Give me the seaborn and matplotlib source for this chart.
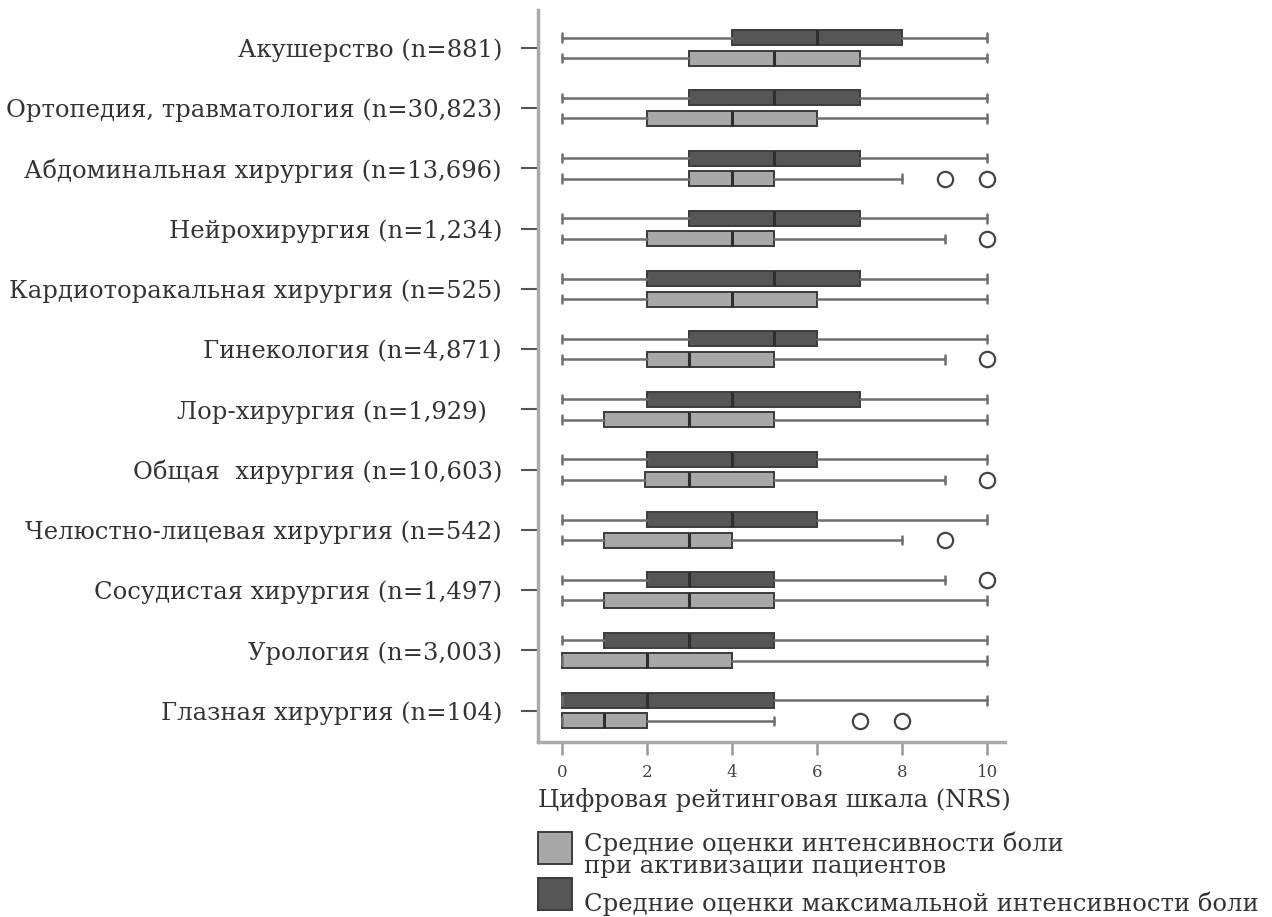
import matplotlib
matplotlib.use("Agg")
import matplotlib.pyplot as plt
import seaborn as sns
from matplotlib.patches import Rectangle

# Surgical specialties (top to bottom)
categories = [
    "Акушерство (n=881)",
    "Ортопедия, травматология (n=30,823)",
    "Абдоминальная хирургия (n=13,696)",
    "Нейрохирургия (n=1,234)",
    "Кардиоторакальная хирургия (n=525)",
    "Гинекология (n=4,871)",
    "Лор-хирургия (n=1,929)  ",
    "Общая  хирургия (n=10,603)",
    "Челюстно-лицевая хирургия (n=542)",
    "Сосудистая хирургия (n=1,497)",
    "Урология (n=3,003)",
    "Глазная хирургия (n=104)",
]

# Maximum pain intensity (NRS): whiskers, quartiles, median, outliers
max_low = [0, 0, 0, 0, 0, 0, 0, 0, 0, 0, 0, 0]
max_q1 = [4, 3, 3, 3, 2, 3, 2, 2, 2, 2, 1, 0]
max_med = [6, 5, 5, 5, 5, 5, 4, 4, 4, 3, 3, 2]
max_q3 = [8, 7, 7, 7, 7, 6, 7, 6, 6, 5, 5, 5]
max_high = [10, 10, 10, 10, 10, 10, 10, 10, 10, 9, 10, 10]
max_out = [[], [], [], [], [], [], [], [], [], [10], [], []]

# Pain intensity on mobilisation (NRS)
act_low = [0, 0, 0, 0, 0, 0, 0, 0, 0, 0, 0, 0]
act_q1 = [3, 2, 3, 2, 2, 2, 1, 1.95, 1, 1, 0, 0]
act_med = [5, 4, 4, 4, 4, 3, 3, 3, 3, 3, 2, 1]
act_q3 = [7, 6, 5, 5, 6, 5, 5, 5, 4, 5, 4, 2]
act_high = [10, 10, 8, 9, 10, 9, 10, 9, 8, 10, 10, 5]
act_out = [[], [], [9, 10], [10], [], [10], [], [10], [9], [], [], [7, 8]]

xticks = [0, 2, 4, 6, 8, 10]
xlabel = "Цифровая рейтинговая шкала (NRS)"
legend_labels = [
    "Средние оценки интенсивности боли\nпри активизации пациентов",
    "Средние оценки максимальной интенсивности боли",
]

W, H = 1272, 917
dark = "#565656"
light = "#a8a8a8"
edge = "#3c3c3c"
whisk = "#6e6e6e"
text_col = "#333333"
fs = 17.5

sns.set_theme(style="white")
plt.rcParams["font.family"] = ["DejaVu Serif"]
plt.rcParams["text.color"] = text_col


def build_stats(low, q1, med, q3, high, out):
    return [
        dict(whislo=a, q1=b, med=c, q3=d, whishi=e, fliers=f)
        for a, b, c, d, e, f in zip(low, q1, med, q3, high, out)
    ]


fig = plt.figure(figsize=(W / 100, H / 100), dpi=100)
ax = fig.add_axes([538 / W, 1 - 742 / H, (1005 - 538) / W, (742 - 10) / H])

idx = list(range(len(categories)))
common = dict(
    widths=0.25,
    orientation="horizontal",
    patch_artist=True,
    capwidths=0.14,
    whiskerprops=dict(color=whisk, linewidth=1.8),
    capprops=dict(color=whisk, linewidth=1.8),
    medianprops=dict(color="#2e2e2e", linewidth=2.2),
    flierprops=dict(marker="o", markerfacecolor="white", markeredgecolor="#444444",
                    markersize=11, markeredgewidth=1.6),
    manage_ticks=False,
)

b1 = ax.bxp(build_stats(max_low, max_q1, max_med, max_q3, max_high, max_out),
            positions=[i - 0.17 for i in idx], **common)
b2 = ax.bxp(build_stats(act_low, act_q1, act_med, act_q3, act_high, act_out),
            positions=[i + 0.17 for i in idx], **common)
for patch in b1["boxes"]:
    patch.set_facecolor(dark)
    patch.set_edgecolor(edge)
    patch.set_linewidth(1.4)
for patch in b2["boxes"]:
    patch.set_facecolor(light)
    patch.set_edgecolor(edge)
    patch.set_linewidth(1.4)

ax.set_ylim(11.52, -0.63)
ax.set_xlim(-0.56, 10.42)
ax.set_yticks(idx)
ax.set_yticklabels(categories, fontsize=fs, color=text_col)
ax.set_xticks(xticks)
ax.set_xticklabels([str(t) for t in xticks], fontsize=12, color="#444444")
ax.tick_params(axis="y", left=True, length=12, width=1.5, color="#555555", pad=14)
ax.tick_params(axis="x", bottom=True, direction="out", length=9, width=1.8,
               color="#999999", pad=7)

for side in ("top", "right"):
    ax.spines[side].set_visible(False)
for side in ("left", "bottom"):
    ax.spines[side].set_color("#aaaaaa")
    ax.spines[side].set_linewidth(2.5)

ax.set_xlabel(xlabel, fontsize=fs, loc="left", labelpad=5, color=text_col)

# Legend: swatches with labels below the axis (swatch top, text top in px)
legend_items = [
    (light, legend_labels[0], 832, 831),
    (dark, legend_labels[1], 878, 891),
]
for colour, label, box_top, text_top in legend_items:
    fig.add_artist(Rectangle((538 / W, 1 - (box_top + 32) / H), 34 / W, 32 / H,
                             transform=fig.transFigure, facecolor=colour,
                             edgecolor=edge, linewidth=1.4))
    fig.text(584 / W, 1 - text_top / H, label, fontsize=fs, color=text_col,
             ha="left", va="top", linespacing=1.0)

fig.savefig("out.png", dpi=100)
